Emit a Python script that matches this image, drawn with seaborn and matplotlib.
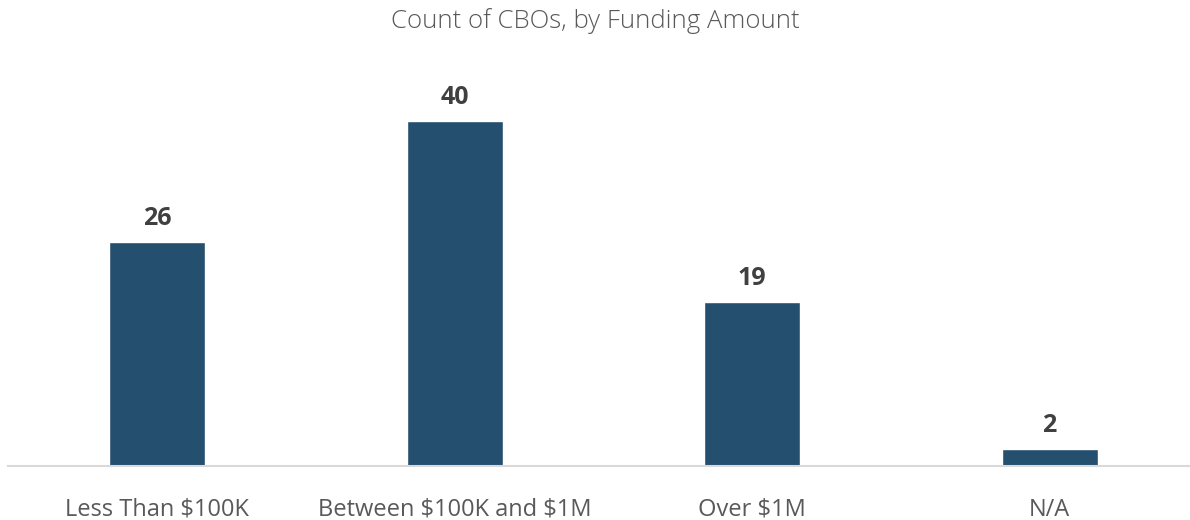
import matplotlib
matplotlib.use("Agg")
import matplotlib.pyplot as plt
import seaborn as sns
import pandas as pd

# ============================================
# DATA
# ============================================

categories = ["Less Than $100K", "Between $100K and $1M", "Over $1M", "N/A"]
counts = [26, 40, 19, 2]

df = pd.DataFrame({"Funding": categories, "Count": counts})

# ============================================
# PLOT
# ============================================

sns.set_style("white")
plt.rcParams["font.family"] = ["Open Sans", "DejaVu Sans"]
plt.rcParams["text.parse_math"] = False

fig = plt.figure(figsize=(11.9, 5.2), dpi=100)
ax = fig.add_axes([0.007, 0.104, 1.0, 0.746])

sns.barplot(
    data=df,
    x="Funding",
    y="Count",
    color="#254F6E",
    saturation=1,
    width=0.323,
    ax=ax
)

ax.set_ylim(0, 45)
ax.set_xlim(-0.5, 3.5)

# value labels
for i, v in enumerate(counts):
    ax.annotate(str(v), (i, v), xytext=(0, 8), textcoords="offset points",
                ha="center", va="bottom",
                fontsize=18, fontweight="bold", color="#404040")

ax.set_xlabel("")
ax.set_ylabel("")
ax.set_yticks([])
ax.tick_params(axis="x", length=0, pad=23, labelsize=17, labelcolor="#595959")

for s in ["top", "right", "left"]:
    ax.spines[s].set_visible(False)
ax.spines["bottom"].set_color("#D9D9D9")
ax.spines["bottom"].set_linewidth(1.5)

fig.text(0.5, 0.96, "Count of CBOs, by Funding Amount", ha="center", va="center",
         fontsize=18.5, color="#595959", fontweight="light")

fig.savefig("out.png", dpi=100)
